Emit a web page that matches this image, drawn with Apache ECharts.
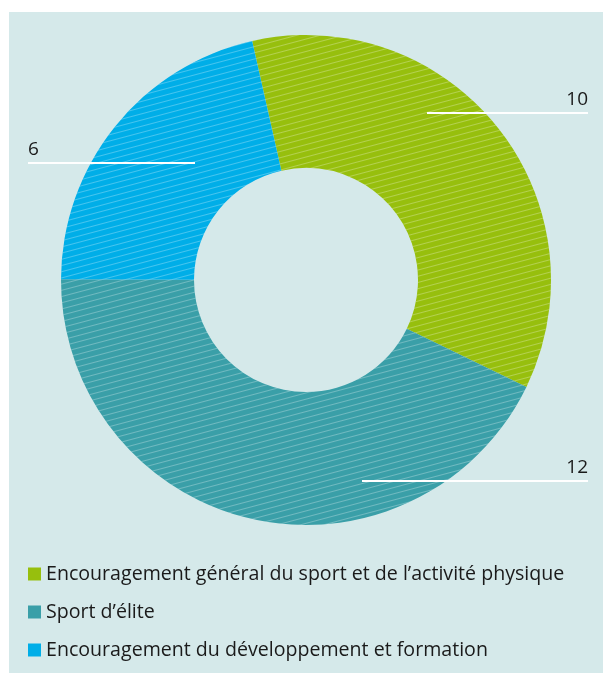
<!DOCTYPE html>
<html>
<head>
<meta charset="utf-8">
<script src="https://cdn.jsdelivr.net/npm/echarts@6/dist/echarts.min.js"></script>
<style>
  html, body { margin: 0; padding: 0; background: #fff; }
  #panel { position: absolute; left: 9px; top: 12px; width: 594px; height: 661px; background: #d5e9ea; }
  #main { width: 100%; height: 100%; }
</style>
</head>
<body>
<div id="panel"><div id="main"></div></div>
<script>
// categories and values
var categories = [
  'Encouragement général du sport et de l\u2019activité physique',
  'Sport d\u2019élite',
  'Encouragement du développement et formation'
]
var values = [10, 12, 6]
var colors = ['#97bf0d', '#3a9fa8', '#00aee8']

// where each annotation line sits (chart coords): [xStart, xEnd, y, side]
var labelSpots = [
  [418, 579, 101, 'right'],
  [353, 579, 469, 'right'],
  [19, 186, 151, 'left']
]

var hatch = {
  symbol: 'rect',
  symbolSize: 1,
  dashArrayX: [1, 0],
  dashArrayY: [1, 5],
  rotation: -0.26,
  color: 'rgba(255,255,255,0.28)'
}

var chart = echarts.init(document.getElementById('main'))

var pieData = values.map(function (v, i) {
  return {
    name: categories[i],
    value: v,
    itemStyle: { color: colors[i], decal: hatch }
  }
})

// same slices again, see-through and one level up, so the label lines sit over the fill
var labelData = values.map(function (v, i) {
  return { name: categories[i], value: v }
})

var pieBase = {
  type: 'pie',
  center: [297, 268],
  radius: [112, 245],
  startAngle: 102.7,
  clockwise: true,
  silent: true
}

var option = {
  textStyle: { fontFamily: 'Open Sans' },
  animation: false,
  legend: {
    orient: 'vertical',
    left: 19,
    top: 552,
    padding: 0,
    icon: 'rect',
    itemWidth: 13,
    itemHeight: 13,
    itemGap: 18,
    itemStyle: { decal: 'none' },
    textStyle: { fontSize: 19.6, color: '#1a1a1a', fontFamily: 'Open Sans' },
    data: categories
  },
  series: [
    Object.assign({}, pieBase, {
      z: 2,
      data: pieData,
      label: { show: false },
      labelLine: { show: false }
    }),
    Object.assign({}, pieBase, {
      z: 5,
      data: labelData,
      itemStyle: { color: 'rgba(0,0,0,0)' },
      label: {
        show: true,
        position: 'outside',
        formatter: '{c}',
        fontSize: 19,
        color: '#1a1a1a',
        fontFamily: 'Open Sans'
      },
      labelLine: {
        show: true,
        showAbove: true,
        lineStyle: { color: '#fff', width: 2 }
      },
      labelLayout: function (params) {
        var s = labelSpots[params.dataIndex]
        return {
          x: s[3] === 'right' ? s[1] : s[0],
          y: s[2] - 4,
          align: s[3],
          verticalAlign: 'bottom',
          labelLinePoints: [[s[0], s[2]], [s[1], s[2]]]
        }
      }
    })
  ]
}

chart.setOption(option)
</script>
</body>
</html>
